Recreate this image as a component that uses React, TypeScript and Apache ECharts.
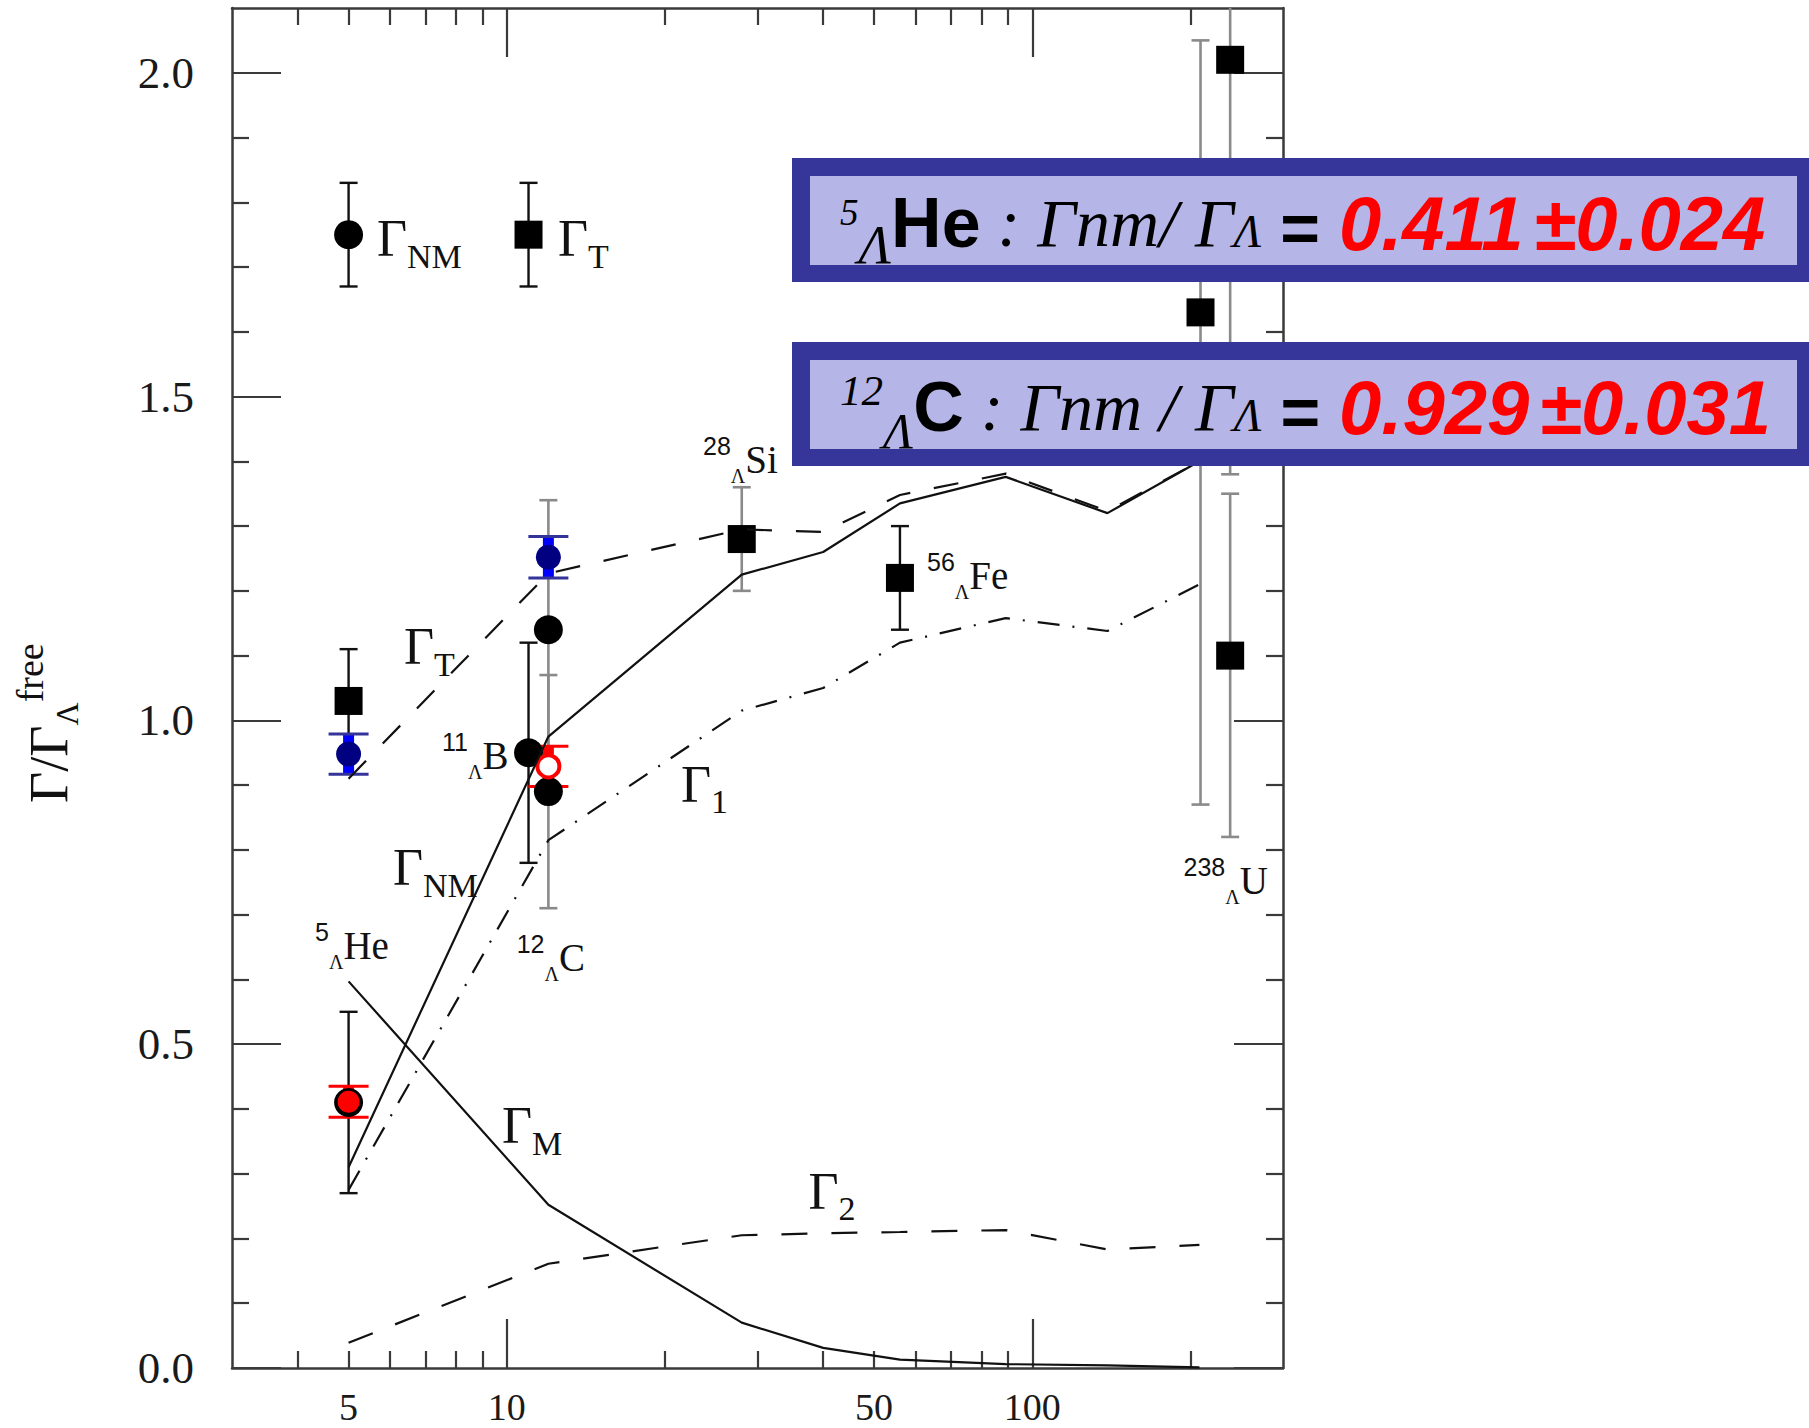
import React, { useEffect, useRef } from "react";
import * as echarts from "echarts";

// ---- calculated widths (ratio to the free Λ width) vs mass number A ----
const calcA = [5, 12, 28, 40, 56, 89, 139, 208];
const gammaNM = [0.31, 0.975, 1.225, 1.26, 1.335, 1.376, 1.32, 1.4];
const gamma1 = [0.275, 0.815, 1.015, 1.05, 1.12, 1.158, 1.138, 1.21];
const gamma2 = [0.039, 0.161, 0.205, 0.208, 0.21, 0.213, 0.183, 0.19];
const gammaM = [0.597, 0.252, 0.07, 0.031, 0.013, 0.006, 0.004, 0.001];
const gammaT = [0.91, 1.227, 1.295, 1.291, 1.348, 1.381, 1.323, 1.4];

// ---- Γ_NM measurements (filled circles) ----
const nmLightA = [5, 11];
const nmLightValue = [0.41, 0.95];
const nmLightErr = [0.14, 0.17];
const nmCarbonA = [12, 12];
const nmCarbonValue = [1.14, 0.89];
const nmCarbonErr = [0.2, 0.18];

// ---- Γ_T measurements (filled squares) ----
const totBlackA = [5, 56];
const totBlackValue = [1.03, 1.22];
const totBlackErr = [0.08, 0.08];
const totGreyA = [28, 209, 238, 238];
const totGreyValue = [1.28, 1.63, 2.02, 1.1];
const totGreyLow = [1.2, 0.87, 1.38, 0.82];
const totGreyHigh = [1.36, 2.05, 2.66, 1.35];

// ---- recent results ----
const newTotA = [5, 12];
const newTotValue = [0.948, 1.252];
const newTotErr = [0.031, 0.032];
const newNmA = [5, 12];
const newNmValue = [0.411, 0.929];
const newNmErr = [0.024, 0.031];

// ---- key symbols in the upper left ----
const keyA = [5, 11];
const keyValue = 1.75;
const keyErr = 0.08;

// ---- axis ticks ----
const xMajorTicks = [10, 100];
const xMinorTicks = [4, 5, 6, 7, 8, 9, 20, 30, 40, 50, 60, 70, 80, 90, 200];
const xTickLabels = [5, 10, 50, 100];
const yMajorTicks = [0, 0.5, 1.0, 1.5, 2.0];
const yMinorTicks = [0.1, 0.2, 0.3, 0.4, 0.6, 0.7, 0.8, 0.9, 1.1, 1.2, 1.3, 1.4, 1.6, 1.7, 1.8, 1.9];

const SERIF = "'Liberation Serif', 'Times New Roman', serif";
const SANS = "'Liberation Sans', Arial, sans-serif";
const FRAME = "#3a3a3a";
const INK = "#111111";
const GREY = "#8a8a8a";
const NAVY = "#36369a";
const LAVENDER = "#b5b5e7";

function logAxis(position: string, ticks: number[], length: number, showLine: boolean, labels?: number[]) {
  return {
    type: "log",
    logBase: 10,
    min: 3,
    max: 300,
    position,
    axisLine: { show: showLine, onZero: false, lineStyle: { color: FRAME, width: 2.5 } },
    axisTick: { show: true, inside: true, length, customValues: ticks, lineStyle: { color: FRAME, width: 2.2 } },
    axisLabel: labels
      ? {
          show: true,
          customValues: labels,
          formatter: (v: number) => String(Math.round(v)),
          margin: 24,
          lineHeight: 30,
          color: "#1a1a1a",
          fontFamily: SERIF,
          fontSize: 38,
        }
      : { show: false },
    minorTick: { show: false },
    splitLine: { show: false },
    minorSplitLine: { show: false },
  };
}

function valueAxis(position: string, ticks: number[], length: number, showLine: boolean, labels?: number[]) {
  return {
    type: "value",
    min: 0,
    max: 2.1,
    position,
    axisLine: { show: showLine, onZero: false, lineStyle: { color: FRAME, width: 2.5 } },
    axisTick: { show: true, inside: true, length, customValues: ticks, lineStyle: { color: FRAME, width: 2.2 } },
    axisLabel: labels
      ? {
          show: true,
          customValues: labels,
          formatter: (v: number) => v.toFixed(1),
          margin: 38,
          color: "#1a1a1a",
          fontFamily: SERIF,
          fontSize: 45,
        }
      : { show: false },
    minorTick: { show: false },
    splitLine: { show: false },
  };
}

function curve(name: string, ys: number[], dash: any) {
  return {
    name,
    type: "line",
    xAxisIndex: 0,
    yAxisIndex: 0,
    showSymbol: false,
    symbol: "none",
    silent: true,
    lineStyle: { color: INK, width: 2.2, type: dash, opacity: 1 },
    data: calcA.map((a, i) => [a, ys[i]]),
  };
}

type BarStyle = {
  barColor: string;
  barWidth: number;
  capColor: string;
  capWidth: number;
  capHalf: number;
};

function errorBars(name: string, xs: number[], lows: number[], highs: number[], st: BarStyle) {
  return {
    name,
    type: "custom",
    xAxisIndex: 0,
    yAxisIndex: 0,
    silent: true,
    data: xs.map((x, i) => [x, lows[i], highs[i]]),
    encode: { x: 0, y: [1, 2] },
    renderItem: (params: any, api: any) => {
      const x = api.value(0);
      const lo = api.coord([x, api.value(1)]);
      const hi = api.coord([x, api.value(2)]);
      const top = params.coordSys.y;
      const clipped = hi[1] < top;
      const hiY = Math.max(hi[1], top);
      const children: any[] = [
        {
          type: "line",
          shape: { x1: lo[0], y1: lo[1], x2: lo[0], y2: hiY },
          style: { stroke: st.barColor, lineWidth: st.barWidth },
        },
        {
          type: "line",
          shape: { x1: lo[0] - st.capHalf, y1: lo[1], x2: lo[0] + st.capHalf, y2: lo[1] },
          style: { stroke: st.capColor, lineWidth: st.capWidth },
        },
      ];
      if (!clipped) {
        children.push({
          type: "line",
          shape: { x1: hi[0] - st.capHalf, y1: hi[1], x2: hi[0] + st.capHalf, y2: hi[1] },
          style: { stroke: st.capColor, lineWidth: st.capWidth },
        });
      }
      return { type: "group", children };
    },
  };
}

function symmetric(values: number[], errs: number[], sign: number) {
  return values.map((v, i) => v + sign * errs[i]);
}

function markers(name: string, xs: number[], ys: number[], symbol: string, size: number, itemStyle: any) {
  return {
    name,
    type: "scatter",
    xAxisIndex: 0,
    yAxisIndex: 0,
    silent: true,
    symbol,
    symbolSize: size,
    itemStyle: { opacity: 1, ...itemStyle },
    data: xs.map((x, i) => [x, ys[i]]),
  };
}

const blackBar: BarStyle = { barColor: INK, barWidth: 2.4, capColor: INK, capWidth: 2.4, capHalf: 9 };
const greyBar: BarStyle = { barColor: GREY, barWidth: 2.6, capColor: GREY, capWidth: 2.6, capHalf: 9 };
const blueBar: BarStyle = { barColor: "#0000ff", barWidth: 11, capColor: "#333399", capWidth: 3, capHalf: 20 };
const redBar: BarStyle = { barColor: "#ff0000", barWidth: 11, capColor: "#ff0000", capWidth: 3, capHalf: 20 };

// --- text helpers ---
function nucleusLabel(x: number, y: number, mass: string, sym: string) {
  return {
    type: "text",
    x,
    y,
    z: 50,
    silent: true,
    style: {
      text: `{m|${mass}}{l|Λ}{s|${sym}}`,
      align: "left",
      verticalAlign: "middle",
      rich: {
        m: { fontFamily: SANS, fontSize: 25, fill: INK, verticalAlign: "top", height: 33 },
        l: { fontFamily: SERIF, fontSize: 20, fill: INK, verticalAlign: "bottom", height: 27 },
        s: { fontFamily: SERIF, fontSize: 39, fill: INK, lineHeight: 60 },
      },
    },
  };
}

function gammaLabel(x: number, y: number, sub: string) {
  return {
    type: "text",
    x,
    y,
    z: 50,
    silent: true,
    style: {
      text: `{g|Γ}{b|${sub}}`,
      align: "left",
      verticalAlign: "middle",
      rich: {
        g: { fontFamily: SERIF, fontSize: 52, fill: INK, lineHeight: 60 },
        b: { fontFamily: SERIF, fontSize: 34, fill: INK, verticalAlign: "bottom", height: 25 },
      },
    },
  };
}

function ratioBox(top: number, mass: string, element: string, opText: string, value: number, err: number, supSize: number, supH: number, lamSize: number, lamH: number, elSize: number) {
  const outerH = 124;
  const center = top + 65;
  return [
    { type: "rect", z: 100, silent: true, shape: { x: 792, y: top, width: 1017, height: outerH }, style: { fill: NAVY } },
    { type: "rect", z: 101, silent: true, shape: { x: 810, y: top + 18, width: 987, height: 89 }, style: { fill: LAVENDER } },
    {
      type: "text",
      z: 102,
      silent: true,
      x: 840,
      y: center,
      style: {
        text: `{sup|${mass}}{lam|Λ}{el|${element}}{op|${opText}}{lam2|Λ}{eq| = }{num|${value.toFixed(3)}}{pm|±${err.toFixed(3)}}`,
        align: "left",
        verticalAlign: "middle",
        rich: {
          sup: { fontFamily: SERIF, fontStyle: "italic", fontSize: supSize, fill: "#000", verticalAlign: "top", height: supH },
          lam: { fontFamily: SERIF, fontStyle: "italic", fontSize: lamSize, fill: "#000", verticalAlign: "bottom", height: lamH },
          el: { fontFamily: SANS, fontWeight: "bold", fontSize: elSize, fill: "#000", lineHeight: 90 },
          op: { fontFamily: SERIF, fontStyle: "italic", fontSize: 68, fill: "#000", lineHeight: 90 },
          lam2: { fontFamily: SERIF, fontStyle: "italic", fontSize: 46, fill: "#000", verticalAlign: "bottom", height: 73 },
          eq: { fontFamily: SANS, fontWeight: "bold", fontSize: 68, fill: "#000", verticalAlign: "bottom", height: 81 },
          num: { fontFamily: SANS, fontWeight: "bold", fontStyle: "italic", fontSize: 76, fill: "#ff0000", lineHeight: 90 },
          pm: { fontFamily: SANS, fontWeight: "bold", fontStyle: "italic", fontSize: 76, fill: "#ff0000", lineHeight: 90, padding: [0, 0, 0, 10] },
        },
      },
    },
  ];
}

function buildOption() {
  const series: any[] = [
    curve("ΓNM", gammaNM, "solid"),
    curve("ΓT", gammaT, [25, 24]),
    curve("Γ1", gamma1, [22, 13, 2, 13]),
    curve("Γ2", gamma2, [26, 24]),
    curve("ΓM", gammaM, "solid"),

    errorBars("key bars", keyA, keyA.map(() => keyValue - keyErr), keyA.map(() => keyValue + keyErr), blackBar),
    errorBars("ΓNM bars", nmLightA, symmetric(nmLightValue, nmLightErr, -1), symmetric(nmLightValue, nmLightErr, 1), blackBar),
    errorBars("ΓNM 12C bars", nmCarbonA, symmetric(nmCarbonValue, nmCarbonErr, -1), symmetric(nmCarbonValue, nmCarbonErr, 1), greyBar),
    errorBars("ΓT bars", totBlackA, symmetric(totBlackValue, totBlackErr, -1), symmetric(totBlackValue, totBlackErr, 1), blackBar),
    errorBars("ΓT heavy bars", totGreyA, totGreyLow, totGreyHigh, greyBar),

    markers("key circle", [keyA[0]], [keyValue], "circle", 29, { color: "#000" }),
    markers("key square", [keyA[1]], [keyValue], "rect", 28, { color: "#000" }),
    markers("ΓNM", nmLightA, nmLightValue, "circle", 29, { color: "#000" }),
    markers("ΓNM 12C", nmCarbonA, nmCarbonValue, "circle", 29, { color: "#000" }),
    markers("ΓT", totBlackA, totBlackValue, "rect", 28, { color: "#000" }),
    markers("ΓT heavy", totGreyA, totGreyValue, "rect", 28, { color: "#000" }),

    errorBars("new ΓT bars", newTotA, symmetric(newTotValue, newTotErr, -1), symmetric(newTotValue, newTotErr, 1), blueBar),
    markers("new ΓT", newTotA, newTotValue, "circle", 25, { color: "#000080" }),

    markers("new ΓNM 5He", [newNmA[0]], [newNmValue[0]], "circle", 22, { color: "#ff0000" }),
    markers("new ΓNM 12C", [newNmA[1]], [newNmValue[1]], "circle", 22, { color: "#ffffff", borderColor: "#ff0000", borderWidth: 4 }),
    errorBars("new ΓNM bars", newNmA, symmetric(newNmValue, newNmErr, -1), symmetric(newNmValue, newNmErr, 1), redBar),
  ];

  const graphics: any[] = [
    // y-axis title Γ/Γ_Λ^free
    {
      type: "text",
      x: 48.5,
      y: 803,
      rotation: Math.PI / 2,
      z: 50,
      silent: true,
      style: {
        text: "{g|Γ/Γ}{l|Λ}{f|free}",
        align: "left",
        verticalAlign: "middle",
        rich: {
          g: { fontFamily: SERIF, fontSize: 54, fill: INK, lineHeight: 70 },
          l: { fontFamily: SERIF, fontSize: 32, fill: INK, verticalAlign: "bottom", height: 34 },
          f: { fontFamily: SERIF, fontSize: 38, fill: INK, verticalAlign: "top", height: 33 },
        },
      },
    },
    gammaLabel(377, 238.5, "NM"),
    gammaLabel(558, 238.5, "T"),
    gammaLabel(404, 646.5, "T"),
    gammaLabel(393, 867.5, "NM"),
    gammaLabel(502, 1125.6, "M"),
    gammaLabel(681, 784, "1"),
    gammaLabel(808.5, 1191, "2"),
    nucleusLabel(315, 945, "5", "He"),
    nucleusLabel(442, 755, "11", "B"),
    nucleusLabel(516.7, 957.5, "12", "C"),
    nucleusLabel(703, 459.5, "28", "Si"),
    nucleusLabel(927, 575, "56", "Fe"),
    nucleusLabel(1183.5, 880, "238", "U"),
    ...ratioBox(158, "5", "He", " : Γnm/ Γ", newNmValue[0], newNmErr[0], 37, 69, 54, 46, 70),
    ...ratioBox(342, "12", "C", " : Γnm / Γ", newNmValue[1], newNmErr[1], 43, 57, 50, 43, 70),
  ];

  return {
    animation: false,
    backgroundColor: "#ffffff",
    grid: { left: 232, top: 8, width: 1051, height: 1360, containLabel: false, outerBoundsMode: "none", show: false },
    xAxis: [
      logAxis("bottom", xMajorTicks, 49, true, xTickLabels),
      logAxis("bottom", xMinorTicks, 17, false),
      logAxis("top", xMajorTicks, 49, true),
      logAxis("top", xMinorTicks, 17, false),
    ],
    yAxis: [
      valueAxis("left", yMajorTicks, 49, true, yMajorTicks),
      valueAxis("left", yMinorTicks, 17, false),
      valueAxis("right", yMajorTicks, 49, true),
      valueAxis("right", yMinorTicks, 17, false),
    ],
    series,
    graphic: { elements: graphics },
  };
}

export default function App() {
  const ref = useRef<HTMLDivElement>(null);
  useEffect(() => {
    if (!ref.current) return;
    const chart = echarts.init(ref.current, undefined, { renderer: "svg" });
    chart.setOption(buildOption() as any);
    return () => chart.dispose();
  }, []);
  return (
    <div
      ref={ref}
      style={{ position: "absolute", left: 0, top: 0, width: 1809, height: 1428, background: "#ffffff" }}
    />
  );
}
